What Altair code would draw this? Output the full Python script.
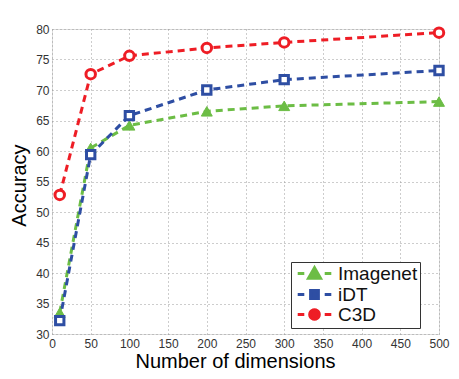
import math
import altair as alt
import pandas as pd

dims = [10, 50, 100, 200, 300, 500]
imagenet = [33.5, 60.5, 64.2, 66.5, 67.4, 68.1]
idt = [32.2, 59.4, 65.8, 70.0, 71.7, 73.2]
c3d = [52.8, 72.6, 75.6, 76.9, 77.8, 79.4]

methods = ["Imagenet", "iDT", "C3D"]
colors = ["#6cbd45", "#2e4ea3", "#ee1d25"]
series = [imagenet, idt, c3d]

x_ticks = list(range(0, 501, 50))
y_ticks = list(range(30, 81, 5))

rows = []
for m, vals in zip(methods, series):
    for d, v in zip(dims, vals):
        rows.append({"method": m, "dim": d, "acc": v})
df = pd.DataFrame(rows)

FONT = "Liberation Sans"

xenc = alt.X("dim:Q", scale=alt.Scale(domain=[0, 500], nice=False),
             axis=alt.Axis(values=x_ticks, title="Number of dimensions",
                           titleFontSize=20, titleFontWeight="normal", titleFont=FONT,
                           titleBaseline="alphabetic", titleY=33, titleX=183,
                           labelFontSize=12, labelFont=FONT, labelColor="#333",
                           labelPadding=4, labelFlush=False, tickSize=0, domain=False,
                           grid=True, gridDash=[1, 3], gridColor="#9a9a9a", gridWidth=1))
yenc = alt.Y("acc:Q", scale=alt.Scale(domain=[30, 80], nice=False),
             axis=alt.Axis(values=y_ticks, title="Accuracy",
                           titleFontSize=20, titleFontWeight="normal", titleFont=FONT,
                           titleAngle=270, titleBaseline="alphabetic", titleAlign="center",
                           titleX=-27, titleY=156,
                           labelFontSize=12, labelFont=FONT, labelColor="#333",
                           labelPadding=3, labelFlush=False, tickSize=0, domain=False,
                           grid=True, gridDash=[1, 3], gridColor="#9a9a9a", gridWidth=1))

layers = []
for m, c in zip(methods, colors):
    layers.append(
        alt.Chart(df).transform_filter(alt.datum.method == m)
        .mark_line(strokeDash=[7, 5], strokeWidth=3, color=c)
        .encode(x=xenc, y=yenc)
    )

marker_styles = {
    "Imagenet": dict(shape="triangle-up", filled=True, fill=colors[0], stroke=colors[0], strokeWidth=1, size=120, opacity=1),
    "iDT": dict(shape="square", filled=True, fill="white", stroke=colors[1], strokeWidth=3, size=70, opacity=1),
    "C3D": dict(shape="circle", filled=True, fill="white", stroke=colors[2], strokeWidth=3, size=90, opacity=1),
}
for m in methods:
    layers.append(
        alt.Chart(df).transform_filter(alt.datum.method == m)
        .mark_point(**marker_styles[m])
        .encode(x=xenc, y=yenc)
    )

# legend symbols: dash - marker - dash
dash = "M-2.8,0H-1.7M1.7,0H2.8"
circ_pts = [(0.8 * math.cos(2 * math.pi * k / 20), 0.8 * math.sin(2 * math.pi * k / 20)) for k in range(20)]
circ = "M" + "L".join(f"{px:.3f},{py:.3f}" for px, py in circ_pts) + "Z"
paths = [
    dash + "M0,-0.95L1.0,0.8L-1.0,0.8Z",
    dash + "M-0.65,-0.65H0.65V0.65H-0.65Z",
    dash + circ,
]
legend = alt.Legend(title=None, orient="none", legendX=239, legendY=233, padding=2,
                    strokeColor="#333", fillColor="white",
                    labelFont=FONT, labelFontSize=19, labelColor="#111",
                    symbolSize=144, symbolStrokeWidth=3, symbolOpacity=1, symbolOffset=12,
                    labelOffset=14, rowPadding=-6)
leg_layer = (
    alt.Chart(df).transform_filter("false")
    .mark_point(filled=True, strokeWidth=3, size=144, opacity=1)
    .encode(
        x=xenc, y=yenc,
        shape=alt.Shape("method:N", scale=alt.Scale(domain=methods, range=paths), legend=legend),
        fill=alt.Fill("method:N", scale=alt.Scale(domain=methods, range=colors), legend=legend),
        stroke=alt.Stroke("method:N", scale=alt.Scale(domain=methods, range=colors), legend=legend),
    )
)
layers.append(leg_layer)

chart = alt.layer(*layers).properties(
    width=387, height=305,
    autosize=alt.AutoSizeParams(type="none"),
    padding={"left": 44, "top": 21, "right": 12, "bottom": 37},
).configure_view(stroke="#444", strokeWidth=1).configure(background="white")

chart.save("out.html", embed_options={"renderer": "svg", "actions": False})
